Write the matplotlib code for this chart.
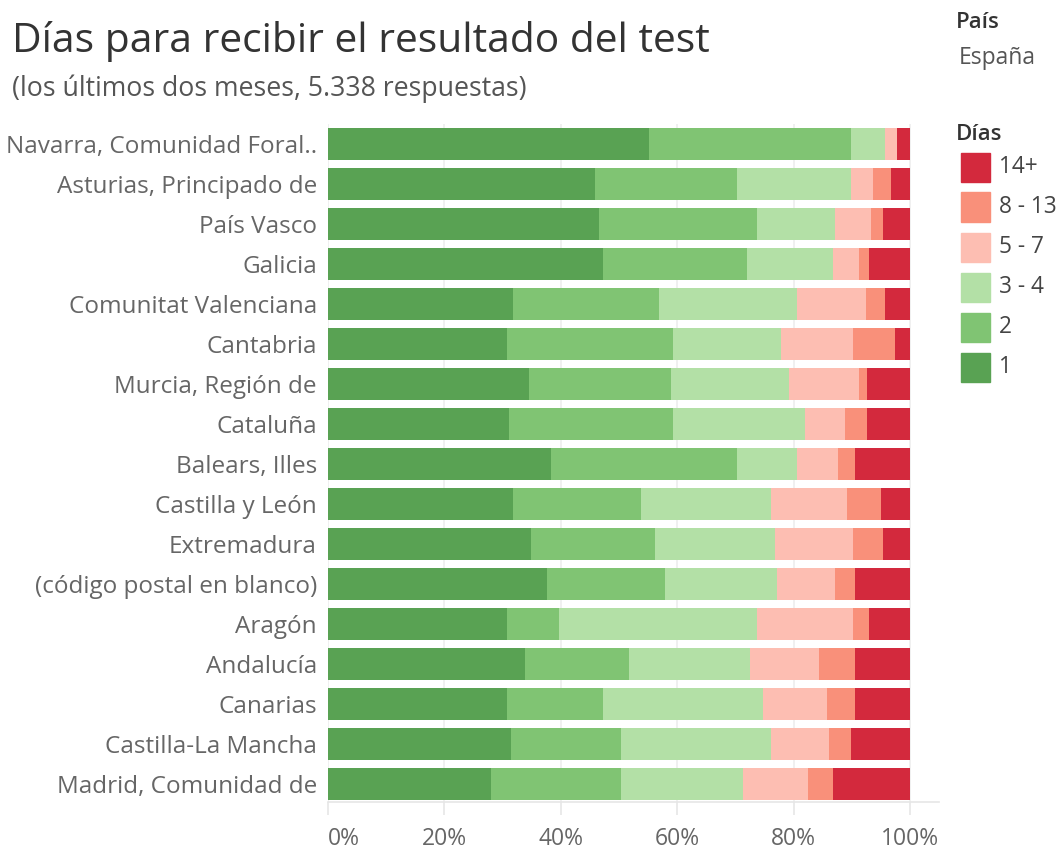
import matplotlib
matplotlib.use("Agg")
import matplotlib.pyplot as plt
import numpy as np

plt.rcParams["font.family"] = ["Open Sans", "DejaVu Sans"]

# Regions, top to bottom
regions = [
    "Navarra, Comunidad Foral..", "Asturias, Principado de", "País Vasco", "Galicia",
    "Comunitat Valenciana", "Cantabria", "Murcia, Región de", "Cataluña",
    "Balears, Illes", "Castilla y León", "Extremadura", "(código postal en blanco)",
    "Aragón", "Andalucía", "Canarias", "Castilla-La Mancha", "Madrid, Comunidad de",
]

# Share of answers (%) per number of days
d1 = [55.2, 45.9, 46.5, 47.3, 31.8, 30.8, 34.5, 31.1, 38.3, 31.8, 34.8, 37.6, 30.8, 33.8, 30.8, 31.5, 28.0]
d2 = [34.7, 24.4, 27.2, 24.7, 25.1, 28.5, 24.4, 28.2, 32.0, 22.0, 21.3, 20.3, 8.9, 17.9, 16.5, 18.9, 22.4]
d3_4 = [5.9, 19.6, 13.4, 14.8, 23.8, 18.6, 20.3, 22.6, 10.4, 22.4, 20.6, 19.2, 34.0, 20.9, 27.5, 25.8, 20.9]
d5_7 = [2.0, 3.7, 6.2, 4.5, 11.9, 12.3, 12.1, 6.9, 7.1, 13.0, 13.4, 10.0, 16.5, 11.8, 11.0, 9.9, 11.1]
d8_13 = [0.0, 3.1, 2.0, 1.7, 3.2, 7.2, 1.3, 3.7, 2.8, 5.9, 5.1, 3.4, 2.7, 6.2, 4.8, 3.8, 4.4]
d14 = [2.2, 3.3, 4.7, 7.0, 4.3, 2.6, 7.4, 7.4, 9.5, 5.0, 4.7, 9.5, 7.1, 9.4, 9.4, 10.1, 13.2]

series = [d1, d2, d3_4, d5_7, d8_13, d14]
series_labels = ["1", "2", "3 - 4", "5 - 7", "8 - 13", "14+"]
colors = ["#59A253", "#80C473", "#B3E0A6", "#FDBEB2", "#F9907A", "#D3293D"]

fig = plt.figure(figsize=(10.62, 8.49), dpi=100)
ax = fig.add_axes([0.3089, 0.0554, 0.5753, 0.7986])

y = np.arange(len(regions))
vals = np.array(series, dtype=float)
vals = vals / vals.sum(axis=0) * 100
left = np.zeros(len(regions))
for v, c in zip(vals, colors):
    ax.barh(y, v, left=left, height=0.78, color=c, linewidth=0, zorder=2)
    left += v

ax.set_xlim(0, 105)
ax.set_ylim(16.45, -0.5)

# gridlines + axis
for xv in range(0, 101, 20):
    ax.axvline(xv, color="#EFEFEF", lw=1.3, zorder=1)
for s in ["top", "right", "left"]:
    ax.spines[s].set_visible(False)
ax.spines["bottom"].set_color("#E6E6E6")
ax.spines["bottom"].set_linewidth(1.2)

ax.set_xticks(range(0, 101, 20))
ax.set_xticklabels([f"{t}%" for t in range(0, 101, 20)])
ax.tick_params(axis="x", colors="#E6E6E6", length=9, width=1.2, labelcolor="#666666",
               labelsize=16.5, pad=9)
lbls = ax.get_xticklabels()
lbls[0].set_horizontalalignment("left")

ax.set_yticks(y)
ax.set_yticklabels(regions)
ax.tick_params(axis="y", length=0, labelcolor="#666666", labelsize=17.5, pad=8)

# titles
fig.text(0.011, 0.951, "Días para recibir el resultado del test", fontsize=29.3,
         color="#333333", va="center", ha="left")
fig.text(0.011, 0.895, "(los últimos dos meses, 5.338 respuestas)", fontsize=19.2,
         color="#555555", va="center", ha="left")

# legend
fig.text(0.900, 0.974, "País", fontsize=16, color="#333333", fontweight="semibold", va="center")
fig.text(0.903, 0.932, "España", fontsize=16.5, color="#555555", va="center")
fig.text(0.900, 0.841, "Días", fontsize=16, color="#333333", fontweight="semibold", va="center")
for i, (lab, c) in enumerate(zip(series_labels[::-1], colors[::-1])):
    yc = 1 - (167 + 40 * i) / 849
    fig.patches.append(plt.Rectangle((961 / 1062, yc - 14.5 / 849), 29 / 1062, 29 / 849,
                                     transform=fig.transFigure, color=c, figure=fig))
    fig.text(999 / 1062, yc, lab, fontsize=16.3, color="#444444", va="center", ha="left")

fig.savefig("out.png", dpi=100)
